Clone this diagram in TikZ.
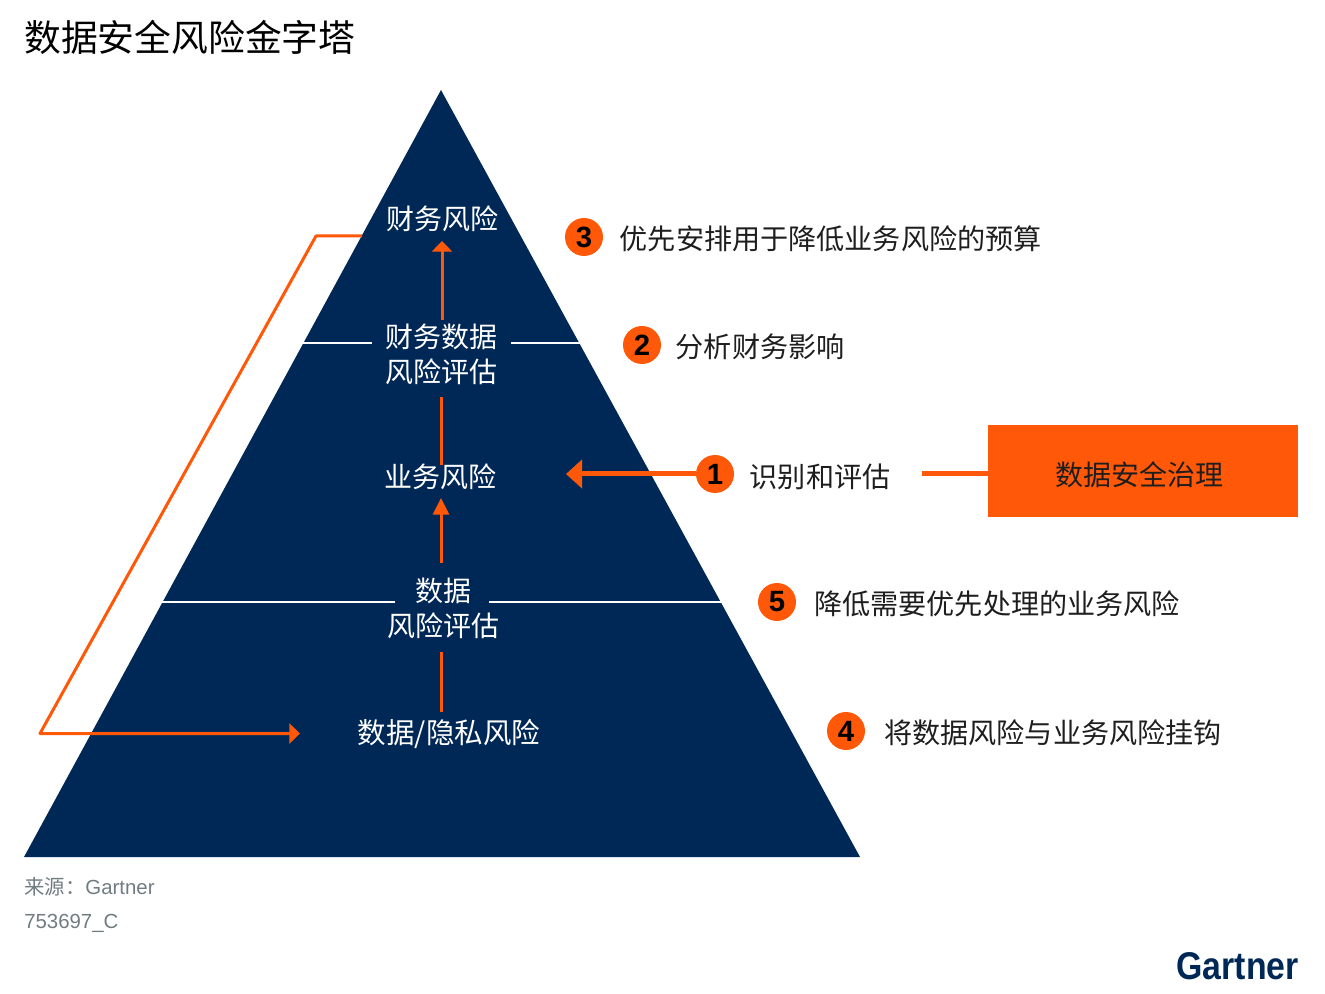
\documentclass[tikz,border=0pt]{standalone}
\usepackage{fontspec}
\usepackage{xcolor}
\usetikzlibrary{arrows.meta, positioning}
\setmainfont{Noto Sans CJK SC}
\newfontfamily\latinfont{Liberation Sans}
\definecolor{gartnernavy}{RGB}{0,40,86}
\definecolor{gartnerorange}{RGB}{255,88,9}
\definecolor{sourcegrey}{RGB}{112,124,130}
\definecolor{labelblack}{RGB}{30,30,30}

\begin{document}
\begin{tikzpicture}[
    x=0.75pt, y=-0.75pt,
    risknode/.style={text=white, align=center, font=\fontsize{21}{26}\selectfont, inner xsep=10pt, inner ysep=1pt},
    stepnum/.style={circle, fill=gartnerorange, text=black, minimum size=28.5pt, inner sep=0pt, font=\latinfont\bfseries\fontsize{22}{22}\selectfont},
    steplabel/.style={anchor=west, text=labelblack, inner sep=0pt, font=\fontsize{21.1}{26}\selectfont},
    source/.style={anchor=west, text=sourcegrey, inner sep=0pt, font=\fontsize{15.3}{18}\selectfont},
    flow/.style={draw=gartnerorange, line width=2.25pt},
    flowarrow/.style={flow, -{Triangle[length=8pt, width=15pt]}},
    flowarrowlong/.style={flow, -{Triangle[length=12.5pt, width=12pt]}},
    thickflow/.style={draw=gartnerorange, line width=3.75pt},
    divider/.style={draw=white, line width=1.5pt}
]
\useasboundingbox (0,0) rectangle (1325,994);

% Title
\node[anchor=west, inner sep=0pt, text=black, font=\fontsize{27.6}{32}\selectfont] (title) at (24,37) {数据安全风险金字塔};

% Pyramid
\coordinate (apex) at (441,90);
\coordinate (baseleft) at (24,857);
\coordinate (baseright) at (860,857);
\fill[gartnernavy] (apex) -- (baseright) -- (baseleft) -- cycle;

% Levels
\node[risknode] (finrisk) at (442,219) {财务风险};
\node[risknode] (finassess) at (441.5,354.5) {财务数据\\风险评估};
\node[risknode] (busrisk) at (440,477) {业务风险};
\node[risknode, inner xsep=15pt] (dataassess) at (443,608.5) {数据\\风险评估};
\node[risknode, font=\fontsize{21.4}{26}\selectfont] (datarisk) at (449,734) {数据/隐私风险};

% Dividers
\coordinate (divaleft) at (302,343.5);
\coordinate (divaright) at (581,343.5);
\coordinate (divbleft) at (162,602);
\coordinate (divbright) at (721,602);
\draw[divider] (divaleft) -- (finassess.west |- divaleft);
\draw[divider] (finassess.east |- divaright) -- (divaright);
\draw[divider] (divbleft) -- (395,602);
\draw[divider] (489,602) -- (divbright);

% Upward chain
\coordinate (finbelow) at (442,241);
\coordinate (finabove) at (442,320);
\coordinate (finunder) at (441,397);
\coordinate (busabove) at (441,465);
\coordinate (busbelow) at (441,498);
\coordinate (dataabove) at (441,563);
\coordinate (dataunder) at (441,652);
\coordinate (riskabove) at (441,712);
\draw[flow] (riskabove) -- (dataunder);
\draw[flowarrowlong] (dataabove) -- (busbelow);
\draw[flow] (busabove) -- (finunder);
\draw[flowarrow] (finabove) -- (finbelow);

% Return loop
\coordinate (loopstart) at (362,236);
\coordinate (looptop) at (316,236);
\coordinate (loopbottom) at (40,733.5);
\coordinate (loopend) at (300,733.5);
\draw[flowarrow, line join=round] (loopstart) -- (looptop) -- (loopbottom) -- (loopend);

% Steps
\node[stepnum] (num3) at (584,237) {3};
\node[steplabel] (label3) at (619.5,239) {优先安排用于降低业务风险的预算};
\node[stepnum] (num2) at (642,345) {2};
\node[steplabel] (label2) at (675.5,347) {分析财务影响};
\node[steplabel] (label1) at (749.5,476.5) {识别和评估};
\node[stepnum] (num5) at (777,602) {5};
\node[steplabel] (label5) at (814,604) {降低需要优先处理的业务风险};
\node[stepnum] (num4) at (846,731) {4};
\node[steplabel] (label4) at (884,733) {将数据风险与业务风险挂钩};

% Governance box
\node[fill=gartnerorange, minimum width=232.5pt, minimum height=69pt, inner sep=0pt] (govern) at (1143,471) {};
\node[text=labelblack, inner sep=0pt, font=\fontsize{21}{26}\selectfont] (governtext) at (1139,474.5) {数据安全治理};
\coordinate (governtail) at (922,474);
\coordinate (busentry) at (566,474);
\draw[thickflow] (governtail) -- (govern.west |- governtail);
\node[stepnum] (num1) at (715,474) {1};
\draw[thickflow, -{Triangle[length=12pt, width=21pt]}] (num1) -- (busentry);

% Source
\node[source] (srcname) at (24,887) {来源：{\latinfont Gartner}};
\node[source] (srccode) at (24,923) {\latinfont 753697\_C};

% Logo
\node[anchor=east, inner sep=0pt, xscale=0.875, text=gartnernavy, font=\latinfont\bfseries\fontsize{29}{29}\selectfont] (logo) at (1299,966) {Gartner};
\end{tikzpicture}
\end{document}
